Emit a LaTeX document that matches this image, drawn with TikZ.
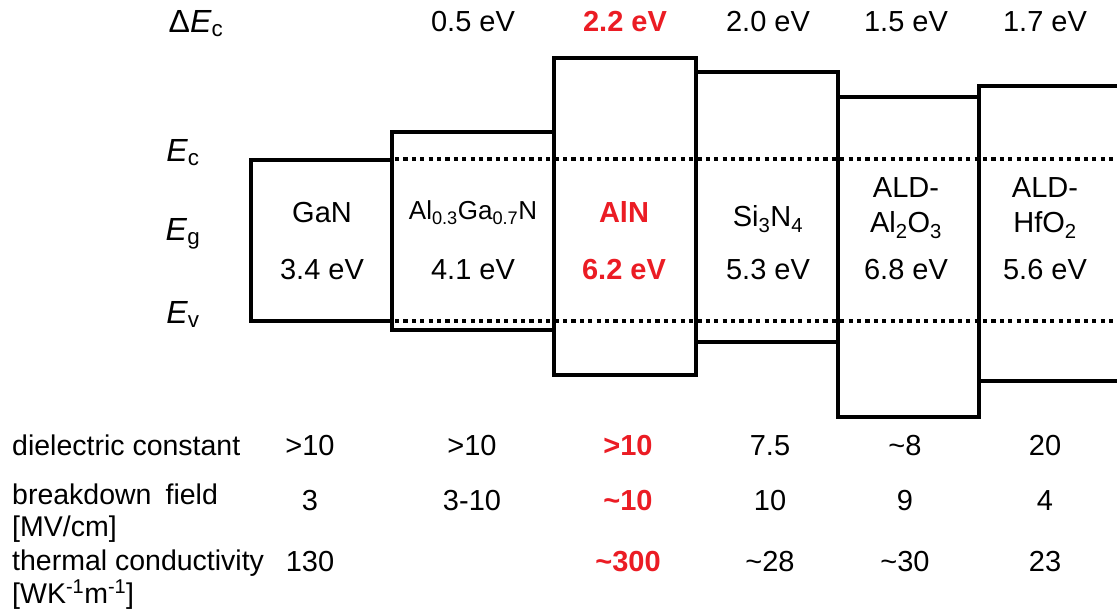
\documentclass[tikz,border=0pt]{standalone}
\usepackage{fontspec}
\setmainfont{Liberation Sans}
\definecolor{hl}{RGB}{235,28,36}
\begin{document}
\begin{tikzpicture}[x=1pt,y=-1pt,
  band/.style={line width=3.4pt, line join=miter, line cap=rect},
  lvl/.style={line width=3.6pt, dash pattern=on 4.2pt off 4.2pt},
  txt/.style={inner sep=0pt, anchor=base, font=\fontsize{29}{33}\selectfont},
  hot/.style={txt, text=hl, font=\fontsize{29}{33}\selectfont\bfseries},
  elab/.style={inner sep=0pt, anchor=base, font=\fontsize{32}{36}\selectfont},
  rowlab/.style={inner sep=0pt, anchor=base west, font=\fontsize{28.5}{32}\selectfont}]
\useasboundingbox (0,0) rectangle (1117,609);
\begin{scope}
\clip (0,0) rectangle (1117,609);
% dotted band edges
\coordinate (ecL) at (395,159); \coordinate (ecR) at (1117,159);
\coordinate (evL) at (395,321); \coordinate (evR) at (1117,321);
\draw[lvl] (ecL) -- (ecR);
\draw[lvl] (evL) -- (evR);
% band boxes
\draw[band] (251,160) rectangle (392,321);
\draw[band] (392,132) rectangle (554,330);
\draw[band] (554,58) rectangle (696,375);
\draw[band] (696,72) rectangle (838,342);
\draw[band] (838,97) rectangle (979,417);
\draw[band] (1125,86) -- (979,86) -- (979,381) -- (1125,381);
\end{scope}
% left labels
\node[elab] (dec) at (196,33) {Δ\textit{E}\textsubscript{c}};
\node[elab] (ec) at (183,162) {\textit{E}\textsubscript{c}};
\node[elab] (eg) at (183,241) {\textit{E}\textsubscript{g}};
\node[elab] (ev) at (183,324) {\textit{E}\textsubscript{v}};
% conduction band offsets
\node[txt] (d1) at (473,32) {0.5 eV};
\node[hot] (d2) at (625,32) {2.2 eV};
\node[txt] (d3) at (768,32) {2.0 eV};
\node[txt] (d4) at (906,32) {1.5 eV};
\node[txt] (d5) at (1045,32) {1.7 eV};
% material names
\node[txt] (m1) at (322,223) {GaN};
\node[txt, font=\fontsize{26}{30}\selectfont] (m2) at (473,220) {Al\textsubscript{0.3}Ga\textsubscript{0.7}N};
\node[hot] (m3) at (624,223) {AlN};
\node[txt] (m4) at (768,227) {Si\textsubscript{3}N\textsubscript{4}};
\node[txt] (m5a) at (906,198) {ALD-};
\node[txt] (m5b) at (906,233) {Al\textsubscript{2}O\textsubscript{3}};
\node[txt] (m6a) at (1045,198) {ALD-};
\node[txt] (m6b) at (1045,233) {HfO\textsubscript{2}};
% band gaps
\node[txt] (g1) at (322,280) {3.4 eV};
\node[txt] (g2) at (473,280) {4.1 eV};
\node[hot] (g3) at (624,280) {6.2 eV};
\node[txt] (g4) at (768,280) {5.3 eV};
\node[txt] (g5) at (906,280) {6.8 eV};
\node[txt] (g6) at (1045,280) {5.6 eV};
% property table
\node[rowlab] (r1) at (12,456) {dielectric constant};
\node[rowlab] (r2) at (12,504) {breakdown\hspace{14pt}field};
\node[rowlab] (r2u) at (12,536) {[MV/cm]};
\node[rowlab] (r3) at (12,570) {thermal conductivity};
\node[rowlab] (r3u) at (12,603) {[WK\textsuperscript{-1}m\textsuperscript{-1}]};
\node[txt] (a1) at (310,456) {>10};
\node[txt] (a2) at (472,456) {>10};
\node[hot] (a3) at (628,456) {>10};
\node[txt] (a4) at (770,456) {7.5};
\node[txt] (a5) at (905,456) {\textasciitilde 8};
\node[txt] (a6) at (1045,456) {20};
\node[txt] (b1) at (310,511) {3};
\node[txt] (b2) at (472,511) {3-10};
\node[hot] (b3) at (628,511) {\textasciitilde 10};
\node[txt] (b4) at (770,511) {10};
\node[txt] (b5) at (905,511) {9};
\node[txt] (b6) at (1045,511) {4};
\node[txt] (c1) at (310,571) {130};
\node[hot] (c3) at (628,571) {\textasciitilde 300};
\node[txt] (c4) at (770,571) {\textasciitilde 28};
\node[txt] (c5) at (905,571) {\textasciitilde 30};
\node[txt] (c6) at (1045,571) {23};
\end{tikzpicture}
\end{document}
